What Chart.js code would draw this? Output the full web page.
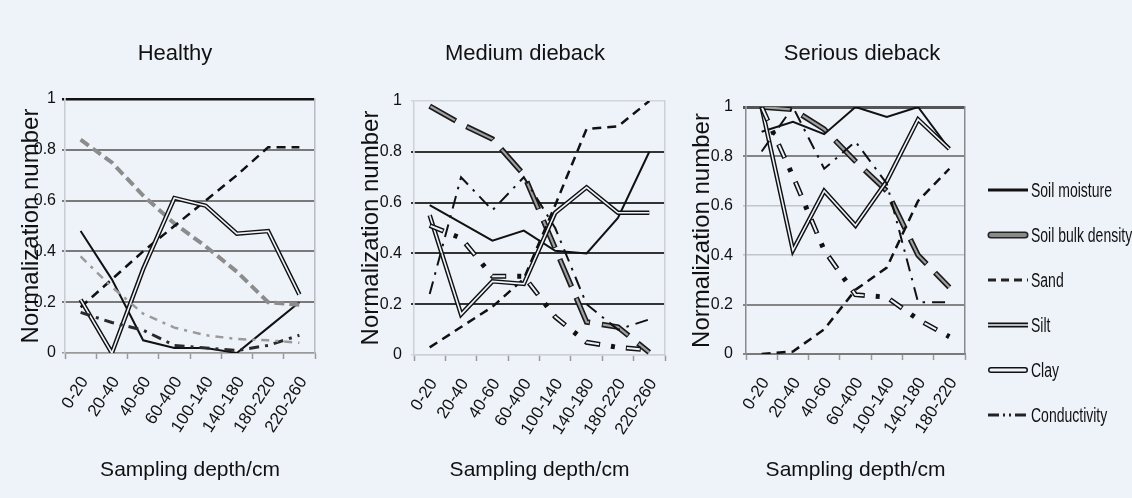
<!DOCTYPE html>
<html>
<head>
<meta charset="utf-8">
<script src="https://cdn.jsdelivr.net/npm/chart.js@4.4.0/dist/chart.umd.min.js"></script>
<style>
  html, body { margin: 0; padding: 0; }
  body { width: 1132px; height: 498px; background: #eef2f9; position: relative; overflow: hidden; }
  canvas.panel { position: absolute; top: 0; }
  #legend { position: absolute; left: 987px; top: 0; }
  .item { position: absolute; left: 0; height: 24px; display: flex; align-items: center; white-space: nowrap;
          font: 20px 'Liberation Sans', Arial, sans-serif; color: #111; }
  .item canvas { margin-right: 2px; }
  .item span { display: inline-block; transform: scaleX(0.7); transform-origin: left center; }
</style>
</head>
<body>
<canvas class="panel" id="c1" width="350" height="498" style="left:0"></canvas>
<canvas class="panel" id="c2" width="340" height="498" style="left:355px"></canvas>
<canvas class="panel" id="c3" width="344" height="498" style="left:690px"></canvas>
<div id="legend"></div>
<script>
const depthsLong = ['0-20', '20-40', '40-60', '60-400', '100-140', '140-180', '180-220', '220-260'];
const depthsShort = ['0-20', '20-40', '40-60', '60-400', '100-140', '140-180', '180-220'];
const seriesNames = ['Soil moisture', 'Soil bulk density', 'Sand', 'Silt', 'Clay', 'Conductivity'];

// Healthy
const healthyMoisture = [0.48, 0.29, 0.05, 0.02, 0.02, 0.00, 0.10, 0.20];
const healthyBulk     = [0.84, 0.75, 0.62, 0.51, 0.42, 0.32, 0.20, 0.19];
const healthySand     = [0.18, 0.29, 0.40, 0.50, 0.60, 0.70, 0.81, 0.81];
const healthySilt     = [0.21, 0.00, 0.33, 0.61, 0.58, 0.47, 0.48, 0.23];
const healthyClay     = [0.16, 0.12, 0.09, 0.03, 0.02, 0.01, 0.03, 0.07];
const healthyCond     = [0.38, 0.26, 0.155, 0.10, 0.07, 0.055, 0.05, 0.04];

// Medium dieback
const mediumMoisture = [0.59, 0.52, 0.45, 0.49, 0.41, 0.40, 0.54, 0.80];
const mediumBulk     = [0.98, 0.91, 0.85, 0.71, 0.42, 0.13, 0.11, 0.01];
const mediumSand     = [0.03, 0.11, 0.19, 0.30, 0.59, 0.89, 0.90, 1.00];
const mediumSilt     = [0.55, 0.16, 0.29, 0.28, 0.56, 0.66, 0.56, 0.56];
const mediumClay     = [0.51, 0.46, 0.31, 0.31, 0.15, 0.05, 0.03, 0.02];
const mediumCond     = [0.24, 0.70, 0.57, 0.70, 0.50, 0.20, 0.10, 0.14];

// Serious dieback
const seriousMoisture = [0.90, 0.94, 0.89, 1.00, 0.96, 1.00, 0.83];
const seriousBulk     = [1.00, 0.99, 0.91, 0.78, 0.66, 0.40, 0.27];
const seriousSand     = [0.00, 0.01, 0.10, 0.26, 0.35, 0.62, 0.75];
const seriousSilt     = [1.00, 0.42, 0.66, 0.52, 0.70, 0.95, 0.83];
const seriousClay     = [1.00, 0.72, 0.42, 0.24, 0.23, 0.14, 0.07];
const seriousCond     = [0.82, 1.00, 0.75, 0.86, 0.69, 0.21, 0.21];

const BG = '#eef2f9';
const FONT = "'Liberation Sans', Arial, sans-serif";
Chart.defaults.font.family = FONT;

// each series is stroked as one or more layers (outline + inner)
const lineStyles = {
  'Soil moisture': [{color: '#111', width: 2}],
  'Soil bulk density': [{color: '#1a1a1a', width: 5.5, dash: [30, 12]}, {color: '#a0a0a0', width: 2.2, dash: [28, 14], offset: -1}],
  'Sand': [{color: '#111', width: 2.5, dash: [9, 6]}],
  'Silt': [{color: '#111', width: 4.5}, {color: BG, width: 1.6}],
  'Clay': [{color: '#111', width: 5, dash: [15, 11, 4, 11]}, {color: BG, width: 2, dash: [13, 28], offset: -1}],
  'Conductivity': [{color: '#111', width: 2, dash: [13, 7, 2.5, 7]}]
};
// healthy panel is printed lighter
const healthyStyles = {
  'Soil bulk density': [{color: '#8c8c8c', width: 4, dash: [10, 5]}],
  'Clay': [{color: '#2a2a2a', width: 3, dash: [10, 6, 3, 6]}],
  'Conductivity': [{color: '#9a9a9a', width: 2.5, dash: [8, 6, 3, 6]}]
};
const legendStyles = {
  'Soil moisture': [{color: '#111', width: 3}],
  'Soil bulk density': [{color: '#222', width: 7, cap: 'round'}, {color: '#8a8a8a', width: 4, cap: 'round'}],
  'Sand': [{color: '#222', width: 3, dash: [8, 5]}],
  'Silt': [{color: '#111', width: 5}, {color: BG, width: 1.5}],
  'Clay': [{color: '#111', width: 6, cap: 'round'}, {color: BG, width: 3, cap: 'round'}],
  'Conductivity': [{color: '#222', width: 3, dash: [11, 4, 2, 4, 2, 4]}]
};

function makeDatasets(values, overrides) {
  const sets = [];
  seriesNames.forEach((name, i) => {
    const layers = (overrides && overrides[name]) || lineStyles[name];
    layers.forEach((layer, j) => {
      sets.push({
        label: name,
        data: values[i],
        borderColor: layer.color,
        borderWidth: layer.width,
        borderDash: layer.dash || [],
        borderDashOffset: layer.offset || 0,
        pointRadius: 0,
        tension: 0,
        fill: false,
        order: (seriesNames.length - i) * 10 - j
      });
    });
  });
  return sets;
}

const panels = [
  {
    id: 'c1', title: 'Healthy', labels: depthsLong, overrides: healthyStyles,
    values: [healthyMoisture, healthyBulk, healthySand, healthySilt, healthyClay, healthyCond],
    top: 99, bottom: 353, yWidth: 65, y2Width: 35, yTitlePad: 16.5, tickPad: 6,
    gridColor: v => v === 1 ? '#111' : (v === 0 ? '#9a9a9a' : '#7a7a7a'),
    gridWidth: v => v === 1 ? 2.5 : (v === 0 ? 1.5 : 2),
    leftBorder: '#c8cbd0', rightBorder: '#b8bbc0', bottomColor: '#9a9a9a', bottomWidth: 1.5
  },
  {
    id: 'c2', title: 'Medium dieback', labels: depthsLong,
    values: [mediumMoisture, mediumBulk, mediumSand, mediumSilt, mediumClay, mediumCond],
    top: 101, bottom: 355, yWidth: 59, y2Width: 30, yTitlePad: 2.1, tickPad: 9,
    gridColor: v => (v === 1 || v === 0) ? '#d2d5db' : '#333',
    gridWidth: v => (v === 1 || v === 0) ? 1.5 : 2,
    leftBorder: '#cdd0d6', rightBorder: '#cdd0d6', bottomColor: '#cdd0d6', bottomWidth: 1.5
  },
  {
    id: 'c3', title: 'Serious dieback', labels: depthsShort,
    values: [seriousMoisture, seriousBulk, seriousSand, seriousSilt, seriousClay, seriousCond],
    top: 107, bottom: 354, yWidth: 56, y2Width: 69, yTitlePad: -1.9, tickPad: 10,
    gridColor: v => v === 1 ? '#555' : ((v > 0.3 && v < 0.7) ? '#c2c5cb' : '#858585'),
    gridWidth: v => v === 1 ? 3 : ((v > 0.3 && v < 0.7) ? 1.5 : 2),
    leftBorder: '#8a8a8a', rightBorder: '#8a8a8a', bottomColor: '#7a7a7a', bottomWidth: 2
  }
];

panels.forEach(p => {
  const titleLine = 22 * 1.2;
  const xTitleLine = 21 * 1.2;
  new Chart(document.getElementById(p.id), {
    type: 'line',
    data: { labels: p.labels, datasets: makeDatasets(p.values, p.overrides) },
    options: {
      responsive: false,
      animation: false,
      layout: { padding: 0 },
      plugins: {
        legend: { display: false },
        tooltip: { enabled: false },
        title: {
          display: true, text: p.title, color: '#111',
          font: { size: 22, weight: 'normal' },
          padding: { top: 54 - titleLine / 2, bottom: p.top - 54 - titleLine / 2 }
        }
      },
      scales: {
        x: {
          offset: true,
          grid: { offset: true, drawOnChartArea: false, tickLength: 6, tickColor: '#9a9a9a', tickWidth: 1.5 },
          border: { color: p.bottomColor, width: p.bottomWidth },
          ticks: { autoSkip: false, maxRotation: 57, minRotation: 57, color: '#111', font: { size: 17 },
                   padding: 14, labelOffset: 4 },
          title: {
            display: true, text: 'Sampling depth/cm', color: '#111', font: { size: 21 },
            padding: { top: 0, bottom: 498 - 470 - xTitleLine / 2 }
          },
          afterFit: s => { s.height = 498 - p.bottom; }
        },
        y: {
          min: 0, max: 1,
          ticks: {
            stepSize: 0.2, color: '#111', font: { size: 16 }, padding: p.tickPad,
            callback: v => (v === 0 || v === 1) ? String(v) : v.toFixed(1)
          },
          grid: {
            color: c => p.gridColor(c.tick.value),
            lineWidth: c => p.gridWidth(c.tick.value),
            tickLength: 3
          },
          border: { color: p.leftBorder, width: 1.5 },
          title: {
            display: true, text: 'Normalization number', color: '#111', font: { size: 24 },
            padding: { top: p.yTitlePad, bottom: 0 }
          },
          afterFit: s => { s.width = p.yWidth; }
        },
        y2: {
          position: 'right', min: 0, max: 1,
          ticks: { display: false },
          grid: { drawOnChartArea: false, drawTicks: false },
          border: { color: p.rightBorder, width: 1.5 },
          afterFit: s => { s.width = p.y2Width; }
        }
      }
    }
  });
});

// legend shared by the three panels
const legend = document.getElementById('legend');
seriesNames.forEach((name, i) => {
  const row = document.createElement('div');
  row.className = 'item';
  row.style.top = (178 + i * 45) + 'px';
  const cv = document.createElement('canvas');
  cv.width = 42; cv.height = 16;
  const g = cv.getContext('2d');
  legendStyles[name].forEach(l => {
    const round = l.cap === 'round';
    g.beginPath();
    g.strokeStyle = l.color;
    g.lineWidth = l.width;
    g.lineCap = l.cap || 'butt';
    g.setLineDash(l.dash || []);
    g.moveTo(round ? 4 : 1, 8);
    g.lineTo(round ? 38 : 41, 8);
    g.stroke();
  });
  row.appendChild(cv);
  const label = document.createElement('span');
  label.textContent = name;
  row.appendChild(label);
  legend.appendChild(row);
});
</script>
</body>
</html>
